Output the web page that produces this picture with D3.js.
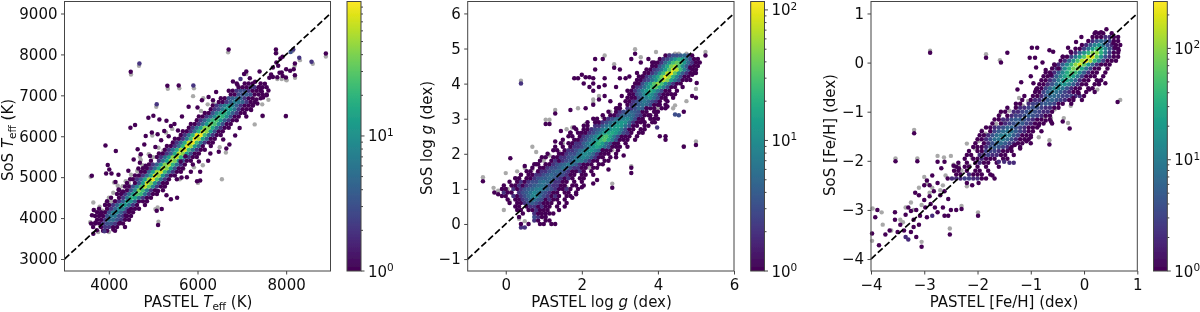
<!DOCTYPE html>
<html>
<head>
<meta charset="utf-8">
<script src="https://cdnjs.cloudflare.com/ajax/libs/d3/7.8.5/d3.min.js"></script>
<style>
  html, body { margin: 0; padding: 0; background: #fff; }
  svg { display: block; }
  text { font-family: "DejaVu Sans", sans-serif; font-size: 15px; fill: #111; }
</style>
</head>
<body>
<svg id="chart" width="1200" height="312"></svg>
<script>
// Rows of the dense hexbin core: [y, first x, [count per cell, 0 = empty]]
const teffStep = 90;
const teffRows = [
  [3690, 3870, [1, 1, 0, 1]],
  [3780, 3645, [1, 0, 1, 2, 2, 1, 1, 0, 1]],
  [3870, 3600, [1, 1, 1, 2, 3, 3, 2, 1, 1]],
  [3960, 3555, [0, 0, 1, 1, 2, 5, 5, 3, 2, 1, 1]],
  [4050, 3600, [0, 1, 1, 1, 3, 6, 6, 3, 2, 1, 1]],
  [4140, 3735, [1, 1, 1, 3, 7, 8, 4, 2, 1, 1]],
  [4230, 3780, [1, 0, 1, 2, 4, 9, 8, 3, 1, 1, 1]],
  [4320, 3915, [1, 1, 2, 4, 11, 12, 5, 2, 1, 0, 1]],
  [4410, 3960, [1, 0, 1, 2, 4, 14, 10, 4, 1, 1, 1]],
  [4500, 4050, [1, 0, 1, 2, 6, 20, 14, 5, 2, 1, 1]],
  [4590, 4185, [1, 1, 2, 5, 12, 28, 22, 6, 2, 1, 1]],
  [4680, 4230, [1, 0, 1, 3, 9, 40, 24, 7, 2, 1, 0, 1]],
  [4770, 4365, [1, 1, 3, 8, 26, 60, 30, 8, 2, 1, 1]],
  [4860, 4410, [1, 0, 1, 3, 12, 70, 40, 10, 3, 1, 1]],
  [4950, 4545, [1, 2, 4, 14, 50, 85, 26, 6, 2, 1, 0, 1]],
  [5040, 4590, [1, 1, 2, 5, 16, 80, 46, 11, 3, 1, 1]],
  [5130, 4725, [1, 1, 4, 14, 50, 70, 22, 6, 2, 1, 1]],
  [5220, 4770, [1, 1, 2, 5, 16, 62, 42, 12, 3, 1, 1]],
  [5310, 4905, [1, 2, 4, 12, 40, 58, 20, 5, 2, 1, 0, 1]],
  [5400, 4950, [1, 0, 2, 5, 14, 56, 38, 10, 3, 1, 1]],
  [5490, 5085, [1, 2, 5, 14, 44, 60, 20, 6, 2, 1, 1]],
  [5580, 5130, [1, 1, 2, 4, 16, 62, 44, 12, 3, 1, 1]],
  [5670, 5265, [1, 2, 5, 16, 56, 72, 22, 6, 2, 1, 1]],
  [5760, 5310, [1, 1, 2, 5, 20, 80, 50, 12, 4, 1, 0, 1]],
  [5850, 5445, [1, 2, 5, 18, 70, 88, 24, 6, 2, 1, 1]],
  [5940, 5490, [1, 1, 2, 6, 24, 92, 56, 14, 4, 1, 1]],
  [6030, 5625, [1, 2, 6, 20, 80, 90, 24, 6, 2, 1, 1]],
  [6120, 5670, [1, 1, 2, 6, 20, 70, 44, 12, 3, 1, 1]],
  [6210, 5805, [1, 2, 5, 14, 42, 40, 16, 5, 2, 1, 1]],
  [6300, 5850, [1, 1, 2, 5, 12, 32, 26, 10, 3, 1, 1]],
  [6390, 5985, [1, 2, 4, 10, 22, 26, 12, 4, 2, 1, 1]],
  [6480, 6030, [1, 1, 2, 4, 9, 24, 20, 9, 3, 1, 1]],
  [6570, 6165, [1, 1, 3, 8, 16, 18, 10, 4, 2, 1, 1]],
  [6660, 6210, [0, 1, 2, 3, 7, 14, 12, 6, 2, 1, 1, 1]],
  [6750, 6345, [1, 2, 4, 7, 10, 8, 4, 2, 1, 1, 1]],
  [6840, 6390, [0, 1, 1, 2, 4, 7, 6, 4, 2, 1, 1]],
  [6930, 6525, [1, 1, 3, 4, 5, 4, 2, 1, 1, 0, 1]],
  [7020, 6570, [0, 0, 1, 1, 3, 3, 4, 3, 1, 1, 1, 1]],
  [7110, 6705, [1, 1, 2, 3, 3, 2, 1, 1, 1]],
  [7200, 6750, [0, 0, 1, 1, 1, 2, 2, 1, 1, 1]],
  [7290, 6885, [1, 0, 1, 1, 1, 0, 1]]
];
// Single hexbin cells outside the core: [x, y, count]
const teffCells = [
  [8895, 8022, 1], [8572, 7819, 2], [8295, 7917, 2], [8197, 7778, 1], [8160, 8120, 2], [8100, 8060, 3],
  [7769, 8120, 1], [7769, 8030, 1], [7919, 7941, 1], [7870, 7900, 1], [7780, 7800, 1], [7820, 7720, 1],
  [7700, 7680, 1], [7900, 7560, 1], [7994, 7436, 1], [8197, 7493, 1], [8090, 7600, 1], [8170, 7640, 1],
  [8000, 7640, 1], [7850, 7550, 1], [7700, 7450, 1], [7620, 7430, 1], [7800, 7440, 1], [7920, 7470, 1],
  [7994, 6492, 1], [7468, 6500, 1], [6702, 8120, 1], [5320, 7233, 1], [5576, 7241, 1], [5906, 7241, 2],
  [4690, 7778, 2], [4494, 7575, 1], [5080, 6785, 2], [7100, 7580, 1], [7400, 7580, 1], [7660, 7510, 1],
  [7450, 7100, 1], [7560, 7000, 1], [7330, 6900, 1], [7480, 6950, 1], [7600, 7120, 1], [7400, 7200, 1],
  [7520, 7280, 1], [7300, 7330, 1], [7180, 7420, 1], [7050, 7520, 1], [6900, 7260, 1], [6800, 7340, 1],
  [6970, 7400, 2], [7100, 6480, 1], [7210, 6640, 1], [7350, 6800, 1], [7250, 6760, 1], [6420, 7080, 1],
  [6250, 6960, 1], [6100, 6880, 1], [6000, 6700, 1], [5800, 6720, 1], [6350, 6880, 1], [5650, 6480, 1],
  [5400, 6250, 1], [5250, 6130, 1], [5100, 6050, 1], [4970, 6090, 1], [4832, 6004, 1], [4487, 6207, 1],
  [4592, 6272, 1], [4892, 6451, 1], [5005, 6500, 1], [5140, 6411, 1], [5300, 6380, 1], [5480, 6300, 1],
  [5560, 6140, 1], [5350, 6000, 1], [5180, 5900, 1], [5050, 5740, 1], [4800, 5800, 1], [4650, 5680, 1],
  [4720, 5560, 1], [4930, 5520, 1], [4560, 5430, 1], [4700, 5350, 1], [4830, 5280, 1], [4440, 5157, 1],
  [4667, 5214, 1], [4217, 5060, 1], [3924, 5776, 1], [4157, 5637, 1], [3976, 5295, 1], [3616, 5035, 1],
  [3939, 5092, 1], [4060, 5090, 1], [4010, 5190, 1], [4150, 4880, 1], [4220, 4700, 1], [4320, 4650, 1],
  [4480, 4950, 1], [5110, 3830, 1], [5193, 4221, 1], [5080, 4180, 1], [5400, 4460, 1], [5540, 4500, 1],
  [5300, 4560, 1], [5110, 4660, 1], [5640, 4990, 1], [5760, 5000, 1], [6060, 4920, 1], [5990, 4900, 1],
  [6060, 5130, 1], [5850, 5130, 1], [5620, 5380, 1], [5730, 5510, 1], [6030, 5380, 1], [6240, 5400, 1],
  [6290, 5580, 1], [6480, 5620, 1], [6650, 5700, 1], [6720, 5800, 1], [6580, 5920, 1], [6850, 6020, 1],
  [6950, 6200, 1], [3700, 3890, 1], [3620, 4070, 1], [3660, 4200, 1], [3830, 4100, 1], [3650, 3620, 1],
  [3730, 3700, 1], [3900, 3680, 2], [4100, 3720, 1], [4250, 3880, 1], [4380, 4060, 1], [4450, 4180, 1]
];
const teffGrey = [
  [8895, 7950], [8600, 7770], [8310, 7860], [8190, 7720], [8140, 8080], [6690, 8050], [7780, 8040], [8010, 7370],
  [8200, 7430], [7990, 6480], [7470, 6490], [5330, 7160], [5590, 7170], [5920, 7170], [4680, 7720], [4500, 7510],
  [5070, 6720], [3590, 5010], [3920, 4320], [3650, 4380], [3790, 4280], [3680, 4190], [3580, 3900], [3830, 3940],
  [3760, 4080], [3860, 4180], [3990, 4400], [4060, 4410], [3930, 4340], [4200, 4790], [4310, 4780], [4240, 4700],
  [4120, 4870], [4450, 4850], [4900, 5560], [5120, 5720], [5000, 5490], [4760, 5290], [5120, 3910], [5100, 4260],
  [5050, 4220], [6550, 4950], [6010, 4860], [6640, 5600], [6500, 5730], [5900, 6980], [6130, 6930], [6360, 6810],
  [5430, 6180], [5290, 6090], [4980, 6020], [4700, 5500], [7290, 6290], [7460, 6780], [7600, 6890], [7800, 7400],
  [7900, 7400], [8000, 7380], [7100, 7520], [3760, 3660], [4000, 3660], [5240, 4860], [4600, 4560], [5600, 4950],
  [4000, 4500], [4100, 4620], [4380, 4900], [4500, 5060], [4640, 5150], [4720, 5420], [5230, 5650], [5440, 5820],
  [5620, 6020], [6080, 6620], [6230, 6780], [6120, 5290], [5920, 5240], [5680, 5200]
];

const loggStep = 0.1;
const loggRows = [
  [-0.1, 0.4, [2, 2]],
  [0, 0.4, [1, 0, 1, 0, 0, 1, 1, 0, 1, 1]],
  [0.1, 0.75, [2, 1, 0, 1, 1]],
  [0.2, 0.35, [1, 0, 0, 0, 3, 2, 1, 1]],
  [0.3, 0.45, [1, 0, 0, 2, 1, 1, 1, 1, 1]],
  [0.4, 0.3, [1, 1, 0, 1, 1, 2, 1, 1, 1, 0, 0, 1]],
  [0.5, 0.25, [1, 1, 0, 1, 2, 2, 1, 2, 1, 1, 0, 1, 0, 1]],
  [0.6, 0.1, [1, 0, 1, 1, 2, 3, 4, 3, 2, 1, 1, 1, 0, 1, 0, 1]],
  [0.7, 0.05, [1, 0, 1, 1, 2, 3, 5, 6, 4, 3, 1, 2, 1, 1, 0, 1]],
  [0.8, -0.1, [1, 1, 0, 2, 1, 2, 3, 5, 8, 9, 5, 3, 2, 1, 2, 1, 0, 1, 1]],
  [0.9, -0.05, [2, 1, 1, 0, 2, 3, 4, 6, 9, 7, 4, 3, 2, 1, 1, 0, 1, 1, 0, 1]],
  [1, -0.1, [1, 1, 0, 2, 1, 2, 3, 4, 5, 7, 8, 6, 4, 3, 2, 1, 1, 2, 1, 0, 1]],
  [1.1, -0.05, [1, 0, 1, 1, 2, 1, 2, 3, 4, 5, 6, 5, 3, 2, 2, 1, 1, 0, 1, 1, 0, 1]],
  [1.2, 0.1, [1, 0, 1, 2, 1, 2, 3, 3, 5, 6, 5, 4, 2, 2, 1, 1, 0, 1, 0, 1]],
  [1.3, 0.25, [1, 1, 0, 1, 1, 2, 3, 4, 4, 5, 4, 3, 2, 1, 2, 1, 0, 1, 1]],
  [1.4, 0.4, [1, 0, 1, 1, 2, 2, 3, 4, 5, 4, 3, 3, 2, 1, 1, 0, 1, 1, 0, 1]],
  [1.5, 0.55, [1, 1, 0, 1, 2, 2, 3, 4, 5, 4, 3, 2, 1, 1, 2, 1, 0, 1]],
  [1.6, 0.7, [1, 0, 1, 1, 2, 3, 3, 4, 6, 5, 3, 2, 2, 1, 1, 0, 1, 1]],
  [1.7, 0.75, [1, 1, 0, 1, 1, 2, 3, 4, 5, 7, 6, 4, 2, 1, 1, 1, 0, 1, 1]],
  [1.8, 0.9, [1, 0, 0, 1, 2, 1, 2, 3, 4, 6, 8, 7, 4, 2, 1, 1, 0, 1, 1]],
  [1.9, 0.95, [1, 1, 0, 1, 1, 2, 2, 3, 4, 6, 7, 9, 7, 4, 2, 1, 1, 0, 1]],
  [2, 1.1, [1, 0, 0, 1, 1, 2, 3, 3, 5, 8, 10, 8, 5, 2, 1, 1, 1, 0, 1]],
  [2.1, 1.25, [1, 1, 0, 1, 2, 2, 3, 5, 7, 10, 13, 9, 5, 2, 1, 1, 0, 1]],
  [2.2, 1.3, [1, 0, 1, 0, 1, 2, 2, 3, 5, 8, 12, 16, 11, 6, 3, 1, 1, 1, 0, 1]],
  [2.3, 1.45, [1, 0, 1, 1, 2, 2, 4, 6, 10, 16, 22, 14, 6, 3, 1, 1, 0, 1]],
  [2.4, 1.5, [1, 0, 0, 1, 1, 2, 3, 5, 8, 13, 24, 32, 18, 8, 3, 1, 1, 1, 0, 1]],
  [2.5, 1.65, [1, 1, 0, 1, 2, 3, 5, 8, 14, 26, 30, 16, 7, 3, 1, 1, 1, 0, 1]],
  [2.6, 1.7, [1, 0, 1, 1, 1, 2, 3, 5, 8, 14, 18, 18, 13, 7, 3, 2, 1, 0, 1, 1]],
  [2.7, 1.85, [1, 0, 1, 1, 2, 3, 4, 7, 10, 12, 15, 13, 7, 3, 1, 1, 0, 1, 1]],
  [2.8, 2.05, [1, 1, 0, 2, 2, 4, 6, 8, 12, 15, 12, 6, 3, 1, 1, 0, 1, 1]],
  [2.9, 2.15, [1, 0, 1, 1, 2, 3, 5, 7, 10, 13, 11, 5, 2, 1, 1, 1, 0, 1]],
  [3, 2.3, [1, 1, 0, 1, 2, 3, 5, 7, 8, 9, 6, 3, 1, 1, 0, 1, 1]],
  [3.1, 2.55, [1, 0, 1, 1, 2, 4, 5, 6, 5, 3, 2, 1, 1, 0, 1]],
  [3.2, 2.7, [1, 0, 1, 2, 3, 4, 5, 4, 3, 1, 1, 0, 1, 1]],
  [3.3, 2.9, [1, 1, 0, 2, 2, 3, 5, 4, 3, 1, 1, 0, 1, 1]],
  [3.4, 3, [1, 0, 1, 2, 3, 4, 6, 5, 3, 1, 1, 0, 1]],
  [3.5, 3.15, [1, 1, 2, 3, 5, 7, 5, 3, 2, 1, 0, 1]],
  [3.6, 3.2, [1, 1, 1, 3, 5, 8, 10, 6, 3, 1, 1, 0, 1]],
  [3.7, 3.25, [1, 1, 3, 5, 10, 14, 10, 5, 2, 1, 1, 0, 1]],
  [3.8, 3.3, [1, 2, 4, 8, 14, 22, 14, 7, 3, 1, 1, 0, 1]],
  [3.9, 3.35, [1, 2, 3, 6, 12, 26, 34, 18, 8, 3, 1, 1, 0, 1]],
  [4, 3.4, [1, 1, 3, 7, 14, 32, 54, 30, 12, 5, 2, 1, 1]],
  [4.1, 3.45, [1, 1, 2, 3, 6, 12, 30, 66, 46, 16, 7, 3, 1, 1, 1]],
  [4.2, 3.5, [1, 1, 2, 4, 8, 16, 40, 100, 60, 22, 8, 3, 1, 1]],
  [4.3, 3.65, [1, 1, 2, 4, 10, 26, 70, 100, 36, 12, 4, 2, 1, 1]],
  [4.4, 3.7, [1, 1, 2, 3, 6, 14, 34, 84, 70, 24, 8, 3, 1, 1]],
  [4.5, 3.85, [1, 1, 3, 7, 18, 44, 62, 30, 10, 4, 2, 1, 1]],
  [4.6, 3.9, [1, 1, 2, 5, 10, 26, 38, 30, 12, 5, 2, 1, 1]],
  [4.7, 4.05, [1, 2, 3, 6, 12, 20, 16, 7, 3, 1, 1]],
  [4.8, 4.2, [1, 2, 3, 3, 4, 5, 3, 1]]
];
const loggCells = [
  [-0.6, 1.22, 1], [-0.3, 0.9, 1], [-0.2, 0.85, 1], [0.12, 1.87, 1], [0.4, 4, 2], [5.25, 4.8, 1],
  [5, 3.6, 1], [5.02, 4.02, 1], [5, 2.25, 1], [4.68, 2.2, 1], [4.68, 3.2, 1], [4.9, 3.65, 1],
  [4.55, 3.1, 3], [4.45, 3.12, 3], [4.05, 2.5, 1], [4.2, 2.4, 1], [4.2, 2.5, 1], [3.98, 2.75, 2],
  [3.92, 2.9, 1], [4, 3, 1], [3.6, 2.95, 1], [2.8, 1.03, 1], [3.3, 1.6, 1], [3.3, 1.45, 1],
  [2.7, 1.55, 1], [2.55, 2.1, 1], [1.75, 0.75, 1], [1.85, 0.85, 1], [2, 1.05, 1], [2.3, 1.15, 1],
  [2.4, 1.25, 1], [2.9, 1.9, 1], [3.1, 1.95, 1], [1.05, 2.85, 1], [1.15, 2.85, 1], [1.3, 3.15, 1],
  [1.3, 2.35, 1], [1.45, 2.65, 1], [1.7, 2.6, 1], [1.8, 2.75, 1], [1.7, 3.25, 1], [2.1, 3.3, 1],
  [2.3, 3.4, 1], [2.45, 3.55, 1], [1.8, 4.15, 1], [1.9, 4.15, 1], [2, 4.25, 1], [2.1, 4.18, 1],
  [2.2, 4.18, 1], [2.3, 4.15, 1], [2.35, 4.4, 1], [2.6, 4.15, 1], [2.2, 3.9, 1], [2.3, 3.8, 1],
  [2.45, 3.9, 1], [2.6, 3.95, 1], [2.3, 4, 1], [2.05, 4, 1], [2.35, 4.7, 1], [2.55, 4.7, 1],
  [2.85, 4.45, 1], [3, 4.4, 1], [3, 4.15, 1], [2.9, 3.9, 1], [2.95, 3.3, 1], [3.15, 4.15, 1],
  [3.25, 4.2, 1], [3.2, 3.8, 1], [3.3, 4.7, 1], [3.4, 4.85, 1], [3.55, 4.6, 1], [3.75, 4.7, 1],
  [3.85, 4.6, 1], [3.45, 4.3, 1], [3.6, 4.2, 1], [2.6, 3.65, 1], [2.75, 3.5, 1], [3.05, 3.65, 1],
  [4.9, 4.25, 1], [5, 4.3, 1], [4.85, 4.45, 1], [3.95, 3.2, 1], [4.05, 3.4, 1], [4.2, 3.55, 1],
  [4.35, 3.7, 1], [4.25, 3.35, 1], [3.8, 3.1, 1], [3.7, 3.3, 1], [0.5, 1.65, 1], [0.8, 1.7, 1]
];
const loggGrey = [
  [-0.6, 1.33], [-0.32, 1.03], [-0.2, 0.95], [0.4, 4.08], [5.25, 4.9], [5, 2.35], [4.68, 2.22], [5, 3.85],
  [4.75, 3.5], [4.45, 3.38], [4.4, 3.3], [2.8, 1.15], [1.75, 1.65], [3.3, 1.65], [1.3, 3.25], [1.05, 2.97],
  [1.15, 2.97], [0.7, 2.2], [0.8, 2.05], [1.9, 3.3], [2.3, 3.55], [2.3, 3.45], [2.45, 3.65], [2.6, 4.8],
  [2.85, 4.55], [3.4, 4.98], [3.55, 4.75], [3.95, 4.9], [4.3, 4.82], [0, 1.45], [-0.05, 0.95], [0.05, 1],
  [-0.05, 0.4], [0.1, 0.65], [0.3, 1.5], [0.5, 1.6], [0.35, 1.2], [0.25, 1.05], [0.45, 0.9], [0.35, 0.15],
  [0.5, 0.08], [0.8, 0.35], [0.85, 0.45], [1, 0.18], [1.05, 0.7], [1.2, 1.6], [1.4, 2.05], [1.5, 2.3],
  [1.6, 2.7], [1.75, 2.75], [2, 2.55], [2.1, 2.85], [2.35, 2.95], [2.55, 3.05], [2.75, 3.2], [1.6, 1.05],
  [1.7, 1.4], [2.2, 1.6], [2.8, 2.1], [4, 3.3], [4.3, 3.9], [4.75, 4.85], [4.55, 4.85], [4.45, 4.85],
  [0.15, 0.9], [0.25, 1.3], [0.4, 1.4], [0.55, 1.3], [0.7, 1.55], [0.85, 1.45], [1, 1.8], [1.15, 1.95],
  [1.3, 1.75], [1.45, 1.65], [1.6, 2.05], [1.7, 2.2], [1.85, 2.35], [2, 2.15], [2.15, 2.5], [2.3, 2.7],
  [2.5, 2.85], [2.7, 2.9], [2.9, 3.05], [0.65, 0.55], [0.95, 0.95], [1.3, 1.15], [1.55, 1.35], [1.85, 1.55],
  [2.1, 1.85], [2.4, 1.95], [2.6, 2.3], [0.6, 0.8], [0.75, 1.1], [3.1, 2.6], [3.35, 2.95], [3.5, 3.25]
];

const fehStep = 0.08;
const fehRows = [
  [-2.36, -2.56, [1, 2, 2, 2, 3, 3, 2, 2, 1, 1, 0, 1]],
  [-2.28, -2.4, [1, 1, 0, 2, 1, 1, 1, 0, 1]],
  [-2.2, -2.44, [1, 1, 0, 1, 0, 1, 1, 0, 1]],
  [-2.12, -2.4, [1, 0, 1, 1, 0, 1, 0, 1, 0, 0, 1]],
  [-2.04, -2.36, [1, 0, 1, 0, 1, 2, 1, 1, 0, 1, 0, 0, 2, 2]],
  [-1.96, -2.24, [1, 0, 1, 1, 2, 1, 1, 1, 0, 1, 1]],
  [-1.88, -2.2, [1, 1, 0, 2, 2, 3, 2, 2, 1, 1, 0, 1]],
  [-1.8, -2.16, [1, 0, 1, 1, 3, 3, 3, 2, 1, 1, 1]],
  [-1.72, -2.08, [1, 1, 1, 2, 4, 5, 4, 3, 2, 1, 0, 1]],
  [-1.64, -2.04, [1, 0, 1, 2, 4, 6, 7, 5, 3, 2, 1, 1, 0, 1]],
  [-1.56, -2, [1, 1, 2, 4, 7, 9, 10, 7, 4, 2, 1, 1, 1]],
  [-1.48, -1.96, [1, 1, 2, 4, 7, 10, 12, 10, 5, 3, 1, 1, 1]],
  [-1.4, -1.92, [1, 0, 1, 3, 5, 7, 9, 8, 5, 3, 2, 1, 1, 0, 1]],
  [-1.32, -1.84, [1, 1, 2, 3, 4, 6, 6, 4, 3, 2, 1, 1, 1]],
  [-1.24, -1.72, [1, 0, 1, 2, 3, 4, 5, 5, 3, 2, 1, 1, 1, 0, 1]],
  [-1.16, -1.68, [1, 1, 2, 2, 4, 5, 5, 4, 3, 2, 1, 1, 0, 1]],
  [-1.08, -1.6, [1, 0, 1, 2, 3, 3, 4, 5, 4, 3, 2, 1, 1]],
  [-1, -1.56, [1, 1, 0, 2, 2, 3, 4, 5, 4, 3, 2, 2, 1]],
  [-0.92, -1.44, [1, 0, 1, 2, 2, 3, 4, 4, 3, 2, 2, 1, 1]],
  [-0.84, -1.28, [1, 1, 0, 2, 3, 3, 4, 5, 4, 3, 1, 1, 0, 1]],
  [-0.76, -1.16, [1, 0, 1, 2, 2, 3, 5, 6, 4, 3, 2, 1, 1, 0, 1]],
  [-0.68, -1.12, [1, 0, 1, 1, 2, 4, 6, 7, 5, 3, 3, 3, 2, 2, 1]],
  [-0.6, -0.92, [1, 1, 3, 6, 10, 8, 5, 3, 2, 1, 1, 0, 1, 0, 1]],
  [-0.52, -0.88, [1, 1, 3, 6, 12, 14, 8, 4, 2, 1, 1, 0, 1, 1]],
  [-0.44, -0.84, [1, 1, 2, 4, 8, 16, 18, 10, 5, 2, 1, 1, 0, 1, 1]],
  [-0.36, -0.8, [1, 1, 2, 4, 10, 20, 28, 14, 6, 2, 1, 1, 0, 1, 1]],
  [-0.28, -0.76, [1, 1, 2, 5, 12, 26, 42, 24, 9, 3, 1, 1, 1, 0, 1]],
  [-0.2, -0.72, [1, 1, 2, 5, 13, 30, 60, 42, 14, 5, 2, 1, 1, 0, 1]],
  [-0.12, -0.6, [1, 2, 5, 14, 36, 80, 90, 30, 9, 3, 1, 1, 0, 1]],
  [-0.04, -0.56, [1, 2, 5, 14, 40, 100, 180, 70, 20, 6, 2, 1, 1, 1]],
  [0.04, -0.44, [1, 2, 6, 16, 50, 130, 250, 120, 36, 10, 3, 1, 1, 1]],
  [0.12, -0.4, [1, 1, 3, 8, 22, 60, 170, 190, 60, 16, 4, 2, 1, 1]],
  [0.2, -0.24, [1, 2, 6, 16, 40, 90, 100, 36, 10, 3, 1, 1]],
  [0.28, -0.16, [1, 1, 3, 8, 20, 44, 34, 12, 4, 2, 1]],
  [0.36, -0.04, [1, 2, 5, 12, 18, 10, 4, 2, 1, 1]],
  [0.44, 0.08, [1, 2, 4, 7, 5, 3, 1, 1]],
  [0.52, 0.16, [1, 1, 1, 2, 2, 1, 1]],
  [0.6, 0.2, [1, 1, 1, 0, 1]]
];
const fehCells = [
  [-2.89, 0.2, 1], [-1.84, 0.1, 1], [-1.56, 0, 1], [-1.44, 0.2, 1], [-3.19, -1.44, 1], [-0.27, -1.34, 1],
  [-0.65, -1.67, 1], [-3.54, -2.01, 1], [-3.13, -2.01, 1], [-1.99, -3.12, 1], [-2.52, -3.5, 1], [0.63, -0.8, 1],
  [-0.62, -1.2, 1], [-0.72, -1.18, 1], [-0.85, -1.28, 1], [-0.4, -1.2, 1], [-2.75, -2.02, 1], [-2.62, -2.02, 1],
  [-2.68, -2.15, 1], [-2.85, -2.3, 1], [-2.95, -2.4, 1], [-3, -2.5, 1], [-2.9, -2.5, 1], [-2.75, -2.45, 1],
  [-2.82, -2.62, 1], [-2.7, -2.7, 1], [-2.62, -2.62, 1], [-2.55, -2.78, 1], [-2.9, -2.72, 1], [-3, -2.8, 1],
  [-3.1, -2.7, 1], [-3.17, -2.65, 1], [-2.98, -2.95, 1], [-2.88, -2.88, 1], [-2.8, -2.95, 1], [-2.65, -2.95, 1],
  [-2.75, -3.05, 1], [-2.62, -3.12, 1], [-2.55, -3.12, 1], [-2.5, -3, 1], [-2.4, -3, 1], [-2.3, -2.98, 1],
  [-2.85, -3.12, 2], [-2.95, -3.15, 1], [-3.08, -3.12, 1], [-3.15, -3, 1], [-3.25, -3.02, 1], [-3.35, -3.1, 1],
  [-3.3, -2.95, 1], [-3.2, -3.2, 1], [-3.1, -3.3, 1], [-3.2, -3.35, 1], [-3.25, -3.45, 1], [-3.38, -3.42, 1],
  [-3.55, -3.05, 1], [-3.55, -3.2, 1], [-3.45, -3.3, 1], [-3.5, -3.45, 1], [-3.35, -3.55, 2], [-3.3, -3.6, 2],
  [-3.15, -3.55, 1], [-3.05, -3.75, 1], [-3.65, -3.42, 1], [-3.73, -3.5, 1], [-3.88, -3, 1], [-3.92, -3.15, 1],
  [-3.85, -3.72, 1], [-3.98, -3.48, 1], [-2.45, -2.1, 1], [-2.35, -2.15, 1], [-2.2, -2.45, 1], [-2.1, -2.5, 1],
  [-1.98, -2.45, 1], [-1.72, -2.3, 1], [-1.6, -2.02, 2], [-1.5, -2.02, 2], [-1.38, -1.75, 1], [-1.2, -1.75, 1],
  [-1.3, -1.68, 1], [-1.08, -1.6, 1], [-1, -1.52, 1], [-1.25, -0.55, 1], [-1.18, -0.4, 1], [-1, -0.28, 1],
  [-0.95, -0.42, 1], [-0.9, -0.55, 1], [-0.98, 0.3, 1], [-0.88, 0.3, 1], [-1.02, 0.1, 1], [-0.92, 0.1, 1],
  [-0.78, 0, 1], [-0.9, -0.1, 1], [-0.72, -0.15, 1], [-0.62, -0.25, 1], [-0.58, 0.22, 1], [-0.65, 0.25, 1],
  [-0.55, -0.05, 1], [-0.48, -0.12, 1], [-0.3, 0.3, 1], [-0.25, 0.22, 1], [-0.4, 0.12, 1], [-0.15, 0.42, 1],
  [-0.05, 0.52, 1], [0.22, 0.62, 1], [0.32, 0.62, 1], [0.42, 0.68, 1], [0.55, 0.4, 1], [0.65, 0.25, 1],
  [0.58, 0.3, 1], [0.4, -0.42, 1], [0.28, -0.38, 1], [0.1, -0.55, 1], [-0.1, -0.62, 1], [-0.2, -0.72, 1]
];
const fehGrey = [
  [-2.89, 0.24], [-1.84, 0.17], [-1.58, 0.05], [-3.19, -1.37], [-0.3, -1.23], [-0.65, -1.58], [-3.54, -1.95], [-3.13, -1.95],
  [-1.99, -3.05], [-2.52, -3.38], [0.68, -0.76], [-0.62, -1.13], [-0.72, -1.1], [-0.38, -1.13], [-2.75, -1.9], [-2.63, -1.93],
  [-2.5, -1.9], [-3, -2.33], [-3.1, -2.55], [-2.95, -2.45], [-2.7, -2.6], [-3.25, -2.85], [-3.35, -2.95], [-3.97, -2.97],
  [-3.78, -3.3], [-3.62, -3.42], [-3.45, -3.2], [-3.98, -3.63], [-3.8, -3.05], [-3.05, -3.65], [-2.3, -2.92], [-2.2, -1.65],
  [-2.45, -2.08], [-2.35, -2.1], [-2.1, -1.95], [-2.05, -1.75], [-1.98, -1.6], [-1.92, -1.38], [-1.85, -1.45], [-1.65, -1.25],
  [-1.58, -1.05], [-1.4, -0.98], [-1.22, -0.72], [-1.05, -0.78], [-0.95, -0.85], [-1.55, -1.68], [-1.1, -1.55], [-0.85, -1.52],
  [-0.75, -1.1], [-0.55, -0.95], [-0.48, -0.75], [-0.25, -0.88], [0.25, -0.55], [-1.28, -0.9], [-2.2, -2.52], [-2.6, -2.3],
  [-2.3, -2.2], [-2.15, -2.1], [-1.9, -1.85], [-1.75, -1.65], [-1.75, -1.4], [-1.5, -1.2], [-1.3, -1.05], [-1.15, -0.88],
  [-0.85, -0.68], [-0.7, -0.5], [-0.6, -0.38], [-0.5, -0.3], [-0.42, -0.18], [-1.7, -1.75], [-1.35, -1.4], [-1.15, -1.22],
  [-2.85, -2.55], [-2.65, -2.5], [-3.05, -2.9], [-2.9, -2.65], [-3.2, -3], [-3.4, -3.25]
];

// Axis ticks and colour bar ticks
const teffTicksX = [4000, 6000, 8000];
const teffTicksY = [3000, 4000, 5000, 6000, 7000, 8000, 9000];
const loggTicksX = [0, 2, 4, 6];
const loggTicksY = [-1, 0, 1, 2, 3, 4, 5, 6];
const fehTicksX = [-4, -3, -2, -1, 0, 1];
const fehTicksY = [-4, -3, -2, -1, 0, 1];
const teffColorMajor = [1, 10];
const teffColorMinor = [2, 3, 4, 5, 6, 7, 8, 9, 20, 30, 40, 50, 60, 70, 80, 90];
const loggColorMajor = [1, 10, 100];
const loggColorMinor = [2, 3, 4, 5, 6, 7, 8, 9, 20, 30, 40, 50, 60, 70, 80, 90];
const fehColorMajor = [1, 10, 100];
const fehColorMinor = [2, 3, 4, 5, 6, 7, 8, 9, 20, 30, 40, 50, 60, 70, 80, 90, 200];

const panels = [
  {
    rows: teffRows, step: teffStep, cells: teffCells, grey: teffGrey,
    xDomain: [3000, 9000], yDomain: [2707, 9293], line: [3000, 9000],
    xTicks: teffTicksX, yTicks: teffTicksY, left: 64.5, right: 330.5,
    barLeft: 347, barRight: 361, colorMax: 99, colorMajor: teffColorMajor, colorMinor: teffColorMinor,
    xLabel: ["PASTEL ", "T", "eff", " (K)"], yLabel: ["SoS ", "T", "eff", " (K)"],
    xLabelX: 198, yLabelX: 13, yLabelY: 140
  },
  {
    rows: loggRows, step: loggStep, cells: loggCells, grey: loggGrey,
    xDomain: [-1, 6], yDomain: [-1.34, 6.34], line: [-1, 6],
    xTicks: loggTicksX, yTicks: loggTicksY, left: 467.7, right: 734,
    barLeft: 750.7, barRight: 764.5, colorMax: 116, colorMajor: loggColorMajor, colorMinor: loggColorMinor,
    xLabel: ["PASTEL log ", "g", "", " (dex)"], yLabel: ["SoS log ", "g", "", " (dex)"],
    xLabelX: 601.5, yLabelX: 432, yLabelY: 138
  },
  {
    rows: fehRows, step: fehStep, cells: fehCells, grey: fehGrey,
    xDomain: [-4, 1], yDomain: [-4.244, 1.244], line: [-4, 1],
    xTicks: fehTicksX, yTicks: fehTicksY, left: 871, right: 1137.3,
    barLeft: 1153.5, barRight: 1167.3, colorMax: 264, colorMajor: fehColorMajor, colorMinor: fehColorMinor,
    xLabel: ["PASTEL [Fe/H] (dex)", "", "", ""], yLabel: ["SoS [Fe/H] (dex)", "", "", ""],
    xLabelX: 1004, yLabelX: 835, yLabelY: 135
  }
];

const plotTop = 1.5;
const plotBottom = 271;
const frameColor = "#444";

const svg = d3.select("#chart");
const defs = svg.append("defs");
// The reference is a soft, resampled picture, so everything gets a small blur
defs.append("filter")
  .attr("id", "soft")
  .attr("filterUnits", "userSpaceOnUse")
  .attr("x", 0).attr("y", 0).attr("width", 1200).attr("height", 312)
  .append("feGaussianBlur")
  .attr("stdDeviation", 0.45);
const root = svg.append("g").attr("filter", "url(#soft)");

// Writes a label with an italic symbol and an optional subscript
function writeLabel(text, parts) {
  text.append("tspan").text(parts[0]);
  if (parts[1]) {
    text.append("tspan").attr("font-style", "italic").text(parts[1]);
  }
  if (parts[2]) {
    text.append("tspan").attr("dy", 3).style("font-size", "10.5px").text(parts[2]);
    text.append("tspan").attr("dy", -3).text(parts[3]);
  } else {
    text.append("tspan").text(parts[3]);
  }
}

function drawPanel(p, index) {
  const x = d3.scaleLinear().domain(p.xDomain).range([p.left, p.right]);
  const y = d3.scaleLinear().domain(p.yDomain).range([plotBottom, plotTop]);
  const color = d3.scaleSequentialLog(d3.interpolateViridis).domain([1, p.colorMax]);
  const g = root.append("g").attr("class", "panel-" + index);

  // Flatten the core rows into [x, y, count] cells
  const coreCells = p.rows.flatMap(([rowY, firstX, counts]) =>
    counts.map((n, i) => [firstX + i * p.step, rowY, n]).filter((c) => c[2] > 0)
  );

  g.selectAll("circle.grey")
    .data(p.grey)
    .join("circle")
    .attr("class", "grey")
    .attr("cx", (d) => x(d[0]))
    .attr("cy", (d) => y(d[1]))
    .attr("r", 2.2)
    .attr("fill", "#a9a9a9");

  g.selectAll("circle.cell")
    .data(coreCells.concat(p.cells))
    .join("circle")
    .attr("class", "cell")
    .attr("cx", (d) => x(d[0]))
    .attr("cy", (d) => y(d[1]))
    .attr("r", 2.25)
    .attr("fill", (d) => color(d[2]));

  g.append("line")
    .attr("x1", x(p.line[0]))
    .attr("y1", y(p.line[0]))
    .attr("x2", x(p.line[1]))
    .attr("y2", y(p.line[1]))
    .attr("stroke", "#000")
    .attr("stroke-width", 1.7)
    .attr("stroke-dasharray", "6.5,2.8");

  // Axes
  const xAxis = g.append("g")
    .attr("transform", "translate(0," + plotBottom + ")")
    .call(d3.axisBottom(x).tickValues(p.xTicks).tickSize(3.5).tickPadding(4.5).tickFormat(d3.format("d")));
  const yAxis = g.append("g")
    .attr("transform", "translate(" + p.left + ",0)")
    .call(d3.axisLeft(y).tickValues(p.yTicks).tickSize(3.5).tickPadding(3.5).tickFormat(d3.format("d")));
  [xAxis, yAxis].forEach((axis) => {
    axis.attr("font-family", null).attr("font-size", null);
    axis.select(".domain").remove();
    axis.selectAll("line").attr("stroke", frameColor);
  });

  g.append("rect")
    .attr("x", p.left)
    .attr("y", plotTop)
    .attr("width", p.right - p.left)
    .attr("height", plotBottom - plotTop)
    .attr("fill", "none")
    .attr("stroke", frameColor);

  writeLabel(
    g.append("text").attr("x", p.xLabelX).attr("y", 307).attr("text-anchor", "middle"),
    p.xLabel
  );
  writeLabel(
    g.append("text")
      .attr("text-anchor", "middle")
      .attr("transform", "translate(" + p.yLabelX + "," + p.yLabelY + ") rotate(-90)"),
    p.yLabel
  );

  // Colour bar
  const barScale = d3.scaleLog().domain([1, p.colorMax]).range([plotBottom, plotTop]);
  const gradient = defs.append("linearGradient")
    .attr("id", "bar-" + index)
    .attr("x1", 0).attr("y1", 1).attr("x2", 0).attr("y2", 0);
  d3.range(0, 1.001, 0.05).forEach((t) => {
    gradient.append("stop")
      .attr("offset", t)
      .attr("stop-color", d3.interpolateViridis(t));
  });
  g.append("rect")
    .attr("x", p.barLeft)
    .attr("y", plotTop)
    .attr("width", p.barRight - p.barLeft)
    .attr("height", plotBottom - plotTop)
    .attr("fill", "url(#bar-" + index + ")")
    .attr("stroke", frameColor);

  g.selectAll("line.minor")
    .data(p.colorMinor.filter((v) => v < p.colorMax))
    .join("line")
    .attr("class", "minor")
    .attr("x1", p.barRight)
    .attr("x2", p.barRight + 2)
    .attr("y1", (d) => barScale(d))
    .attr("y2", (d) => barScale(d))
    .attr("stroke", frameColor);

  const major = g.selectAll("g.major")
    .data(p.colorMajor)
    .join("g")
    .attr("class", "major")
    .attr("transform", (d) => "translate(" + p.barRight + "," + barScale(d) + ")");
  major.append("line").attr("x2", 3.5).attr("stroke", frameColor);
  const label = major.append("text").attr("x", 7).attr("y", 5.5);
  label.append("tspan").text("10");
  label.append("tspan")
    .attr("dy", -5.5)
    .style("font-size", "10.5px")
    .text((d) => Math.round(Math.log10(d)));
}

panels.forEach(drawPanel);
</script>
</body>
</html>
